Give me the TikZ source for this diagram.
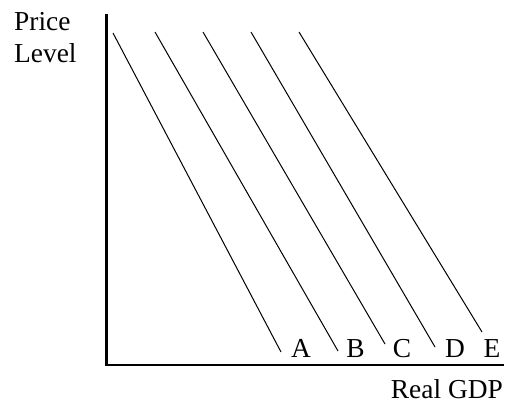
\documentclass[tikz,border=0pt]{standalone}
\usepackage{fontspec}
\setmainfont{Liberation Serif}
\begin{document}
\begin{tikzpicture}[x=1bp,y=-1bp,
  axis/.style={line width=2.4bp, black},
  curve/.style={line width=1bp, black},
  lab/.style={font=\fontsize{27.5}{32}\selectfont, anchor=base, inner sep=0pt}]
\useasboundingbox (0,0) rectangle (506,404);
% axes
\coordinate (o) at (106.5,365);
\coordinate (ytop) at (106.5,14);
\coordinate (xend) at (504,365);
\draw[axis] (ytop) -- (o) -- (xend);
% curves
\coordinate (a1) at (113,33);  \coordinate (a2) at (281,352);
\coordinate (b1) at (155,32);  \coordinate (b2) at (338,351);
\coordinate (c1) at (203,32);  \coordinate (c2) at (385,344);
\coordinate (d1) at (251,32);  \coordinate (d2) at (435,347);
\coordinate (e1) at (299,32);  \coordinate (e2) at (482,332);
\draw[curve] (a1) -- (a2);
\draw[curve] (b1) -- (b2);
\draw[curve] (c1) -- (c2);
\draw[curve] (d1) -- (d2);
\draw[curve] (e1) -- (e2);
% labels
\node[lab] (la) at (301,357) {A};
\node[lab] (lb) at (355.5,357) {B};
\node[lab] (lc) at (402,357) {C};
\node[lab] (ld) at (455,357) {D};
\node[lab] (le) at (492,357) {E};
\node[lab, anchor=base west] (price) at (14,30) {Price};
\node[lab, anchor=base west] (level) at (14,62) {Level};
\node[lab, anchor=base east] (gdp) at (503,398) {Real GDP};
\end{tikzpicture}
\end{document}
